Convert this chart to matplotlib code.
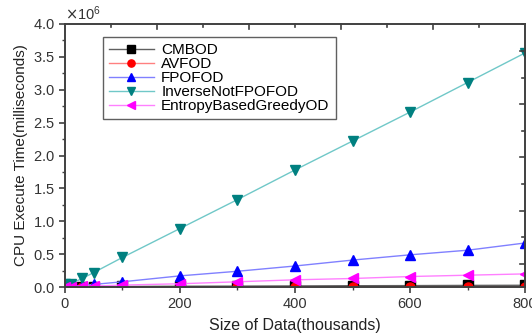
import matplotlib
matplotlib.use("Agg")
import matplotlib.pyplot as plt
import numpy as np
from matplotlib.ticker import MultipleLocator, ScalarFormatter

plt.rcParams['font.family'] = ['Liberation Sans', 'DejaVu Sans']

# data size in thousands
sizes = [1, 10, 30, 50, 100, 200, 300, 400, 500, 600, 700, 800]

# cpu time, in units of 1e6 ms
cmbod = [0.0, 0.003, 0.005, 0.007, 0.009, 0.012, 0.014, 0.017, 0.02, 0.022, 0.025, 0.027]
avfod = [0.0, 0.0, 0.001, 0.001, 0.002, 0.002, 0.003, 0.003, 0.004, 0.004, 0.005, 0.005]
fpofod = [0.005, 0.01, 0.02, 0.04, 0.08, 0.17, 0.24, 0.32, 0.41, 0.49, 0.56, 0.67]
inverse = [0.05, 0.05, 0.13, 0.22, 0.45, 0.89, 1.33, 1.78, 2.22, 2.66, 3.11, 3.56]
entropy = [0.002, 0.005, 0.01, 0.015, 0.03, 0.05, 0.08, 0.11, 0.13, 0.16, 0.18, 0.20]

series = [
    ('CMBOD', cmbod, 's', 'black', '#606060'),
    ('AVFOD', avfod, 'o', 'red', '#ff8080'),
    ('FPOFOD', fpofod, '^', 'blue', '#8080ff'),
    ('InverseNotFPOFOD', inverse, 'v', '#008080', '#70c8c8'),
    ('EntropyBasedGreedyOD', entropy, '<', 'magenta', '#ff80ff'),
]

fig = plt.figure(figsize=(5.32, 3.33), dpi=100)
ax = fig.add_axes([0.122, 0.138, 0.865, 0.79])

for name, vals, mk, mc, lc in series:
    ax.plot(sizes, np.array(vals) * 1e6, color=lc, lw=1.0, marker=mk, ms=6.5,
            mfc=mc, mec=mc, label=name)

ax.set_xlim(0, 800)
ax.set_ylim(0, 4.0e6)
ax.xaxis.set_major_locator(MultipleLocator(200))
ax.xaxis.set_minor_locator(MultipleLocator(100))
ax.yaxis.set_major_locator(MultipleLocator(0.5e6))
ax.yaxis.set_minor_locator(MultipleLocator(0.25e6))

fmt = ScalarFormatter(useMathText=True)
fmt.set_powerlimits((0, 0))
ax.yaxis.set_major_formatter(fmt)
ax.yaxis.get_offset_text().set_fontsize(10.5)
ax.yaxis.get_offset_text().set_color('#333333')

ax.tick_params(which='both', direction='out', colors='#404040', labelcolor='#333333',
               labelsize=10.5, top=False, right=False)
ax.tick_params(which='major', length=4, width=1.2)
ax.tick_params(which='minor', length=2.5, width=1.0)

for sp in ax.spines.values():
    sp.set_color('#404040')
    sp.set_linewidth(1.4)

# top / right inward ticks (separate scale like in the original)
for pos in np.arange(80, 800, 80):
    ln = 5 if pos % 160 == 0 else 3
    ax.plot([pos, pos], [4.0e6, 4.0e6 - ln * 4.0e6 / 263], color='#404040', lw=1.2,
            clip_on=False)
for k, pos in enumerate(np.arange(0.35e6, 4.0e6, 0.405e6)):
    ln = 5 if k % 2 == 0 else 3
    ax.plot([800, 800 - ln * 800 / 460], [pos, pos], color='#404040', lw=1.2,
            clip_on=False)

ax.set_xlabel('Size of Data(thousands)', fontsize=11.5, color='#222222', labelpad=5)
ax.set_ylabel('CPU Execute Time(milliseconds)', fontsize=11, color='#222222', labelpad=3)

leg = ax.legend(loc='upper left', bbox_to_anchor=(0.083, 0.95), borderaxespad=0,
                fontsize=11, fancybox=False, framealpha=1, edgecolor='#606060',
                handlelength=2.9, handletextpad=0.5, labelspacing=0.0,
                borderpad=0.4, markerscale=0.8)
leg.get_frame().set_linewidth(1.0)

fig.savefig('out.png', dpi=100)
